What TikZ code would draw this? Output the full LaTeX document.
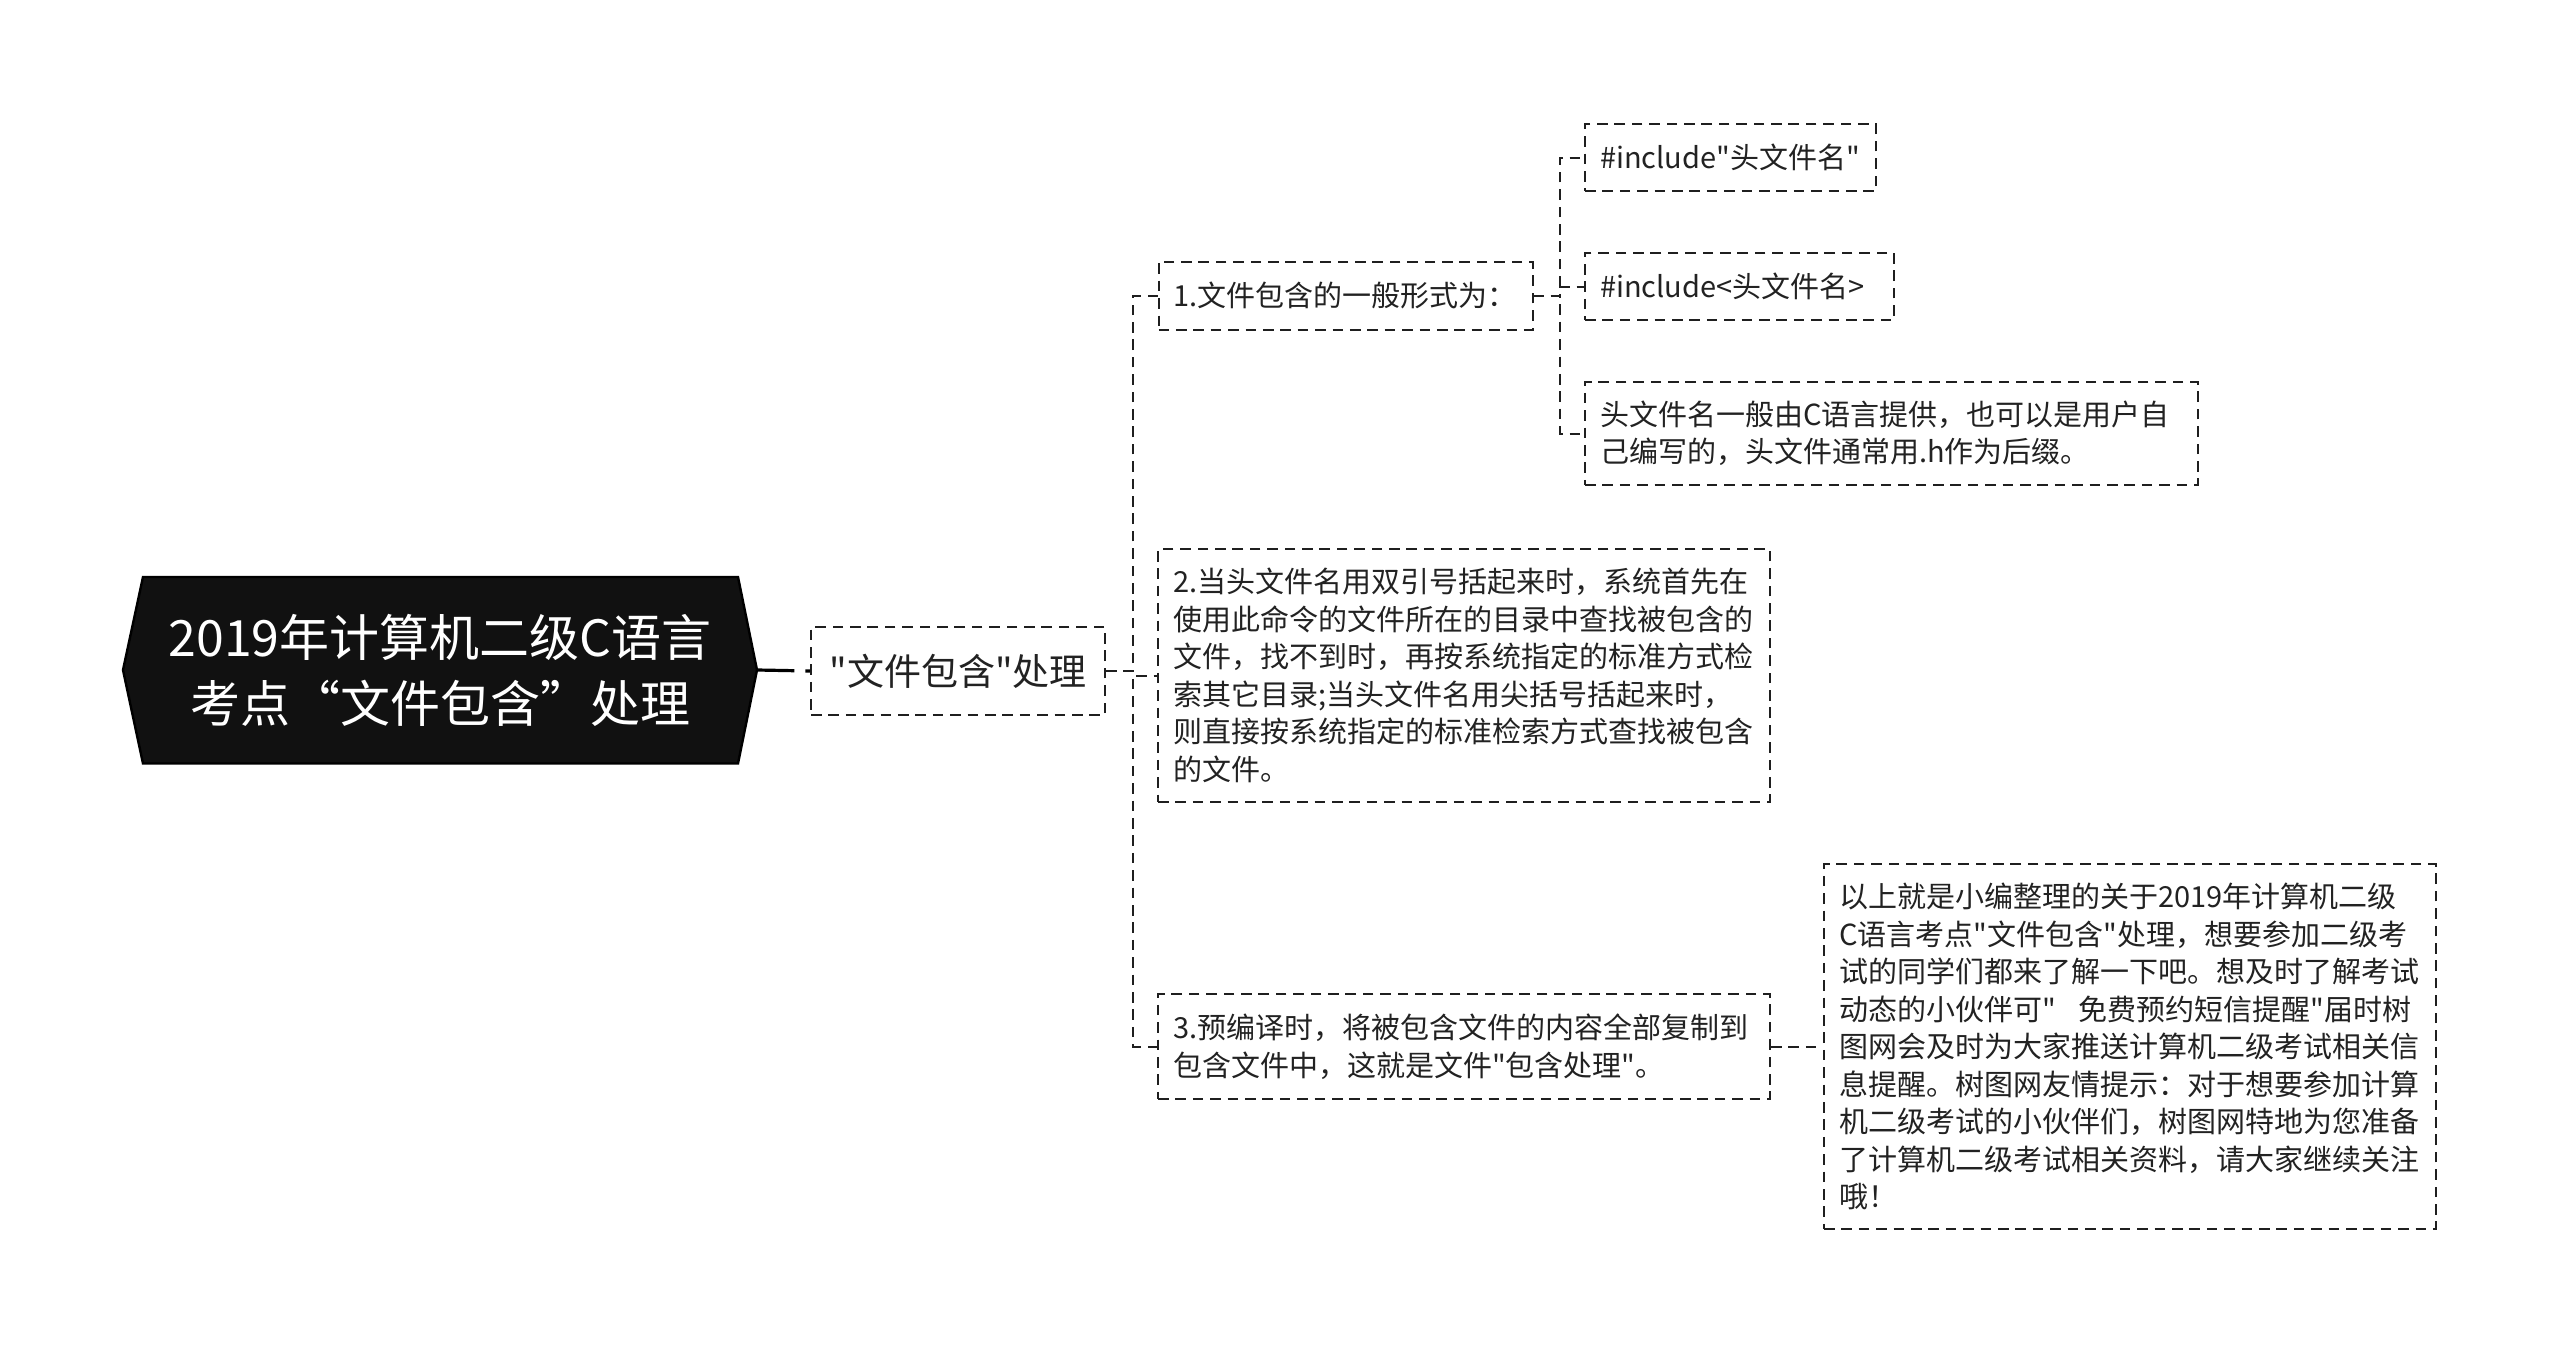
\documentclass[tikz,border=0pt]{standalone}
\usepackage{fontspec}
\setmainfont{Noto Sans CJK SC}[Ligatures=TeXOff]
\definecolor{txt}{HTML}{222222}
\definecolor{rootfill}{HTML}{111111}
\newcommand\fsSmall{\fontsize{14.5pt}{18.75pt}\selectfont}
\newcommand\fsMid{\fontsize{18.5pt}{22pt}\selectfont}
\newcommand\fsRoot{\fontsize{25pt}{33pt}\selectfont}
\tikzset{
  box/.style={draw=black!88, line width=1pt, dash pattern=on 5.3pt off 3.4pt,
    inner xsep=7.5pt, inner ysep=0pt, align=left, text=txt, font=\fsSmall},
  conn/.style={draw=black!88, line width=1pt, dash pattern=on 5.3pt off 3.4pt},
  rootconn/.style={draw=black, line width=1.6pt, dash pattern=on 18.5pt off 5.5pt on 3pt off 10pt},
}
\begin{document}
\begin{tikzpicture}[x=0.5pt,y=-0.5pt]
\useasboundingbox[fill=white] (0,0) rectangle (2560,1355);

% root shape
\filldraw[fill=rootfill, draw=black, line width=1.2pt]
  (123,670) -- (143,577) -- (738,577) -- (757,670) -- (738,763.5) -- (143,763.5) -- cycle;
\node[minimum width=317pt, minimum height=93.5pt, inner sep=0pt, align=center,
      text=white, font=\fsRoot] (root) at (440,670)
      {2019年计算机二级C语言\\考点“文件包含”处理};

% level 1
\node[box, font=\fsMid, minimum width=147pt, minimum height=44pt, align=center] (l1) at (958,671)
  {"文件包含"处理};

% level 2
\node[box, text width=172pt, minimum height=34pt] (n1) at (1345.5,295.5)
  {1.文件包含的一般形式为：};
\node[box, text width=291pt, minimum height=126.5pt] (n2) at (1464,675.5)
  {2.当头文件名用双引号括起来时，系统首先在\\
   使用此命令的文件所在的目录中查找被包含的\\
   文件，找不到时，再按系统指定的标准方式检\\
   索其它目录;当头文件名用尖括号括起来时，\\
   则直接按系统指定的标准检索方式查找被包含\\
   的文件。};
\node[box, text width=291pt, minimum height=52.5pt] (n3) at (1464,1046.5)
  {3.预编译时，将被包含文件的内容全部复制到\\
   包含文件中，这就是文件"包含处理"。};

% level 3
\node[box, text width=130.5pt, minimum height=33.5pt] (na) at (1730.5,157.5)
  {\#include"头文件名"};
\node[box, text width=139.5pt, minimum height=33.5pt] (nb) at (1739.5,286.5)
  {\#include<头文件名>};
\node[box, text width=291.5pt, minimum height=51.5pt] (nc) at (1891.5,433.5)
  {头文件名一般由C语言提供，也可以是用户自\\
   己编写的，头文件通常用.h作为后缀。};
\node[box, text width=291pt, minimum height=182.5pt] (n4) at (2130,1046.5)
  {以上就是小编整理的关于2019年计算机二级\\
   C语言考点"文件包含"处理，想要参加二级考\\
   试的同学们都来了解一下吧。想及时了解考试\\
   \mbox{动态的小伙伴可"\hspace{0.8em}免费预约短信提醒"届时树}\\
   图网会及时为大家推送计算机二级考试相关信\\
   息提醒。树图网友情提示：对于想要参加计算\\
   机二级考试的小伙伴们，树图网特地为您准备\\
   了计算机二级考试相关资料，请大家继续关注\\
   哦！};

% connectors
\draw[rootconn] (root.east) -- (l1.west);
\foreach \c in {n1,n2,n3}
  \draw[conn] (l1.east) -- ++(13.5pt,0) |- (\c.west);
\foreach \c in {na,nb,nc}
  \draw[conn] (n1.east) -- ++(13pt,0) |- (\c.west);
\draw[conn] (n3.east) -- ++(13pt,0) |- (n4.west);
\end{tikzpicture}
\end{document}
